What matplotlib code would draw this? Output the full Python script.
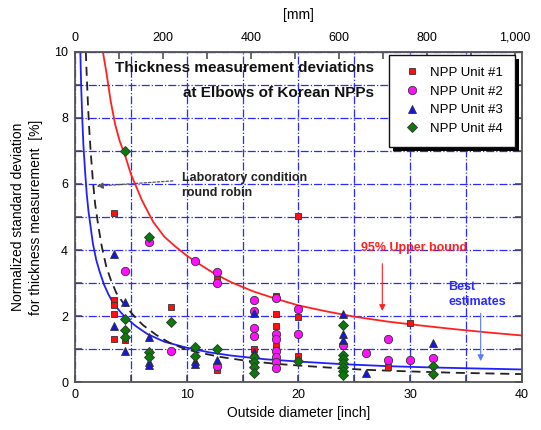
import matplotlib
matplotlib.use('Agg')
import matplotlib.pyplot as plt
from matplotlib.patches import Rectangle
from matplotlib.transforms import IdentityTransform
from matplotlib.ticker import MultipleLocator, FixedLocator, FuncFormatter

plt.rcParams['font.family'] = ['Liberation Sans', 'DejaVu Sans']

# measured points, outside diameter [inch] vs normalized std deviation [%]
u1_x = [3.5, 3.5, 3.5, 3.5, 3.5, 4.5, 8.625, 12.75, 12.75, 16, 18, 18, 18, 18, 20, 20, 20, 28, 30]
u1_y = [5.13, 2.48, 2.34, 2.07, 1.30, 1.26, 2.26, 3.13, 0.36, 1.0, 2.6, 2.05, 1.69, 1.09, 5.03, 1.97, 0.78, 0.44, 1.80]

u2_x = [4.5, 6.625, 8.625, 10.75, 12.75, 12.75, 12.75, 16, 16, 16, 16, 18, 18, 18, 18, 18, 18, 18,
        20, 20, 24, 26, 28, 28, 30, 32]
u2_y = [3.35, 4.24, 0.95, 3.66, 3.33, 2.99, 0.5, 2.5, 2.15, 1.65, 1.39, 2.55, 1.45, 1.29, 0.93, 0.75, 0.6, 0.42,
        2.22, 1.44, 1.12, 0.88, 1.29, 0.67, 0.66, 0.72]

u3_x = [3.5, 3.5, 4.5, 4.5, 6.625, 6.625, 6.625, 10.75, 10.75, 12.75, 16, 16, 24, 24, 24, 26, 32]
u3_y = [3.87, 1.71, 2.43, 0.95, 1.35, 0.6, 0.52, 0.65, 0.54, 0.67, 2.1, 0.9, 2.06, 1.46, 1.26, 0.27, 1.19]

u4_x = [4.5, 4.5, 4.5, 4.5, 6.625, 6.625, 6.625, 8.625, 10.75, 10.75, 12.75, 16, 16, 16, 16, 20,
        24, 24, 24, 24, 24, 24, 24, 32, 32]
u4_y = [7.0, 1.92, 1.58, 1.37, 4.39, 0.91, 0.75, 1.82, 1.05, 0.79, 1.01, 0.75, 0.6, 0.45, 0.27, 0.63,
        1.74, 0.82, 0.7, 0.58, 0.45, 0.32, 0.2, 0.49, 0.23]

# curves
upper_x = [2.5, 2.8, 3.2, 3.6, 4.0, 4.5, 5.0, 6.0, 7.0, 8.0, 9.0, 10.0, 11.0, 12.5, 14, 16, 18, 20,
           22.5, 25, 28, 31, 34, 37, 40]
upper_y = [10.0, 9.4, 8.5, 7.8, 7.3, 6.85, 6.3, 5.5, 4.85, 4.4, 4.1, 3.83, 3.6, 3.28, 3.02, 2.74, 2.52, 2.32,
           2.14, 1.98, 1.83, 1.71, 1.6, 1.5, 1.41]

best_x = [0.48, 0.55, 0.65, 0.75, 0.9, 1.05, 1.2, 1.4, 1.6, 1.9, 2.2, 2.6, 3.0, 3.5, 4.0, 4.5, 5.5, 6.5,
          8.0, 10.0, 12.0, 14, 17, 20, 24, 28, 32, 36, 40]
best_y = [10.0, 9.0, 8.0, 7.2, 6.4, 5.7, 5.2, 4.7, 4.2, 3.7, 3.35, 2.95, 2.65, 2.35, 2.15, 1.96, 1.68, 1.45,
          1.22, 1.04, 0.9, 0.8, 0.69, 0.62, 0.54, 0.48, 0.44, 0.41, 0.38]

lab_x = [0.97, 1.05, 1.15, 1.25, 1.4, 1.6, 1.8, 2.1, 2.4, 2.8, 3.2, 3.7, 4.2, 4.9, 5.5, 6.1, 7.3, 8.4,
         9.7, 11, 13, 15.4, 18, 20, 23, 26, 30, 34, 40]
lab_y = [10.0, 9.3, 8.5, 7.8, 7.0, 6.1, 5.4, 4.7, 4.1, 3.5, 3.1, 2.7, 2.45, 2.15, 1.92, 1.72, 1.42, 1.2,
         1.02, 0.9, 0.76, 0.64, 0.55, 0.5, 0.43, 0.37, 0.32, 0.28, 0.24]

mm_ticks = [0, 200, 400, 600, 800, 1000]

fig = plt.figure(figsize=(5.41, 4.30), dpi=100)
ax = fig.add_axes([0.1386, 0.1116, 0.8263, 0.7675])

grid_col = '#2a2aff'
ax.set_xlim(0, 40)
ax.set_ylim(0, 10)
ax.xaxis.set_major_locator(MultipleLocator(10))
ax.xaxis.set_minor_locator(MultipleLocator(5))
ax.yaxis.set_major_locator(MultipleLocator(2))
ax.yaxis.set_minor_locator(MultipleLocator(1))
ax.grid(True, which='both', color=grid_col, ls='-.', lw=0.9, zorder=0)
ax.set_axisbelow(True)

ax.tick_params(which='both', direction='in', length=5, width=1.1, color='#444',
               right=True, top=False, labelsize=9, pad=5)
for s in ax.spines.values():
    s.set_color('#555')
    s.set_linewidth(1.3)

ax.plot(upper_x, upper_y, color='#ff2020', lw=1.3, zorder=2)
ax.plot(best_x, best_y, color='#2020ff', lw=1.3, zorder=2)
ax.plot(lab_x, lab_y, color='#222222', lw=1.3, ls=(0, (5, 3.2)), zorder=2)

mk = dict(ls='none', mec='#333333', mew=0.6, zorder=3)
ax.plot(u1_x, u1_y, marker='s', ms=5, mfc='#ff1010', label='NPP Unit #1', **mk)
ax.plot(u2_x, u2_y, marker='o', ms=6, mfc='#ff10ff', label='NPP Unit #2', **mk)
ax.plot(u3_x, u3_y, marker='^', ms=6, mfc='#1515e0', label='NPP Unit #3', **mk)
ax.plot(u4_x, u4_y, marker='D', ms=5, mfc='#0b7a0b', label='NPP Unit #4', **mk)

ax.set_xlabel('Outside diameter [inch]', fontsize=10)
ax.xaxis.set_label_coords(0.5, -0.072)
ax.set_ylabel('Normalized standard deviation\nfor thickness measurement  [%]', fontsize=10,
              linespacing=1.35)
ax.yaxis.set_label_coords(-0.072, 0.5)

top = ax.secondary_xaxis('top', functions=(lambda x: x * 25.4, lambda m: m / 25.4))
top.xaxis.set_major_locator(FixedLocator(mm_ticks))
top.xaxis.set_minor_locator(FixedLocator(list(range(100, 1000, 200))))
top.xaxis.set_major_formatter(FuncFormatter(lambda v, p: '{:,.0f}'.format(v)))
top.tick_params(which='both', direction='in', length=5, width=1.1, color='#444', labelsize=9, pad=6)
top.spines['top'].set_color('#555')
top.set_xlabel('[mm]', fontsize=10, labelpad=9)

# in-plot texts
ax.text(26.75, 9.5, 'Thickness measurement deviations', ha='right', va='center',
        fontsize=11, fontweight='bold', color='#111111')
ax.text(26.75, 8.77, 'at Elbows of Korean NPPs', ha='right', va='center',
        fontsize=11, fontweight='bold', color='#111111')

ax.text(9.6, 5.95, 'Laboratory condition\nround robin', fontsize=9, fontweight='bold',
        color='#222222', va='center', linespacing=1.35)
ax.annotate('', xy=(1.7, 5.93), xytext=(9.0, 6.1),
            arrowprops=dict(arrowstyle='-|>', color='#555555', lw=0.9, ls=(0, (2, 1.5)),
                            mutation_scale=9))

ax.text(25.6, 4.05, '95% Upper bound', color='#ff2020', fontsize=9, fontweight='bold', va='center')
ax.annotate('', xy=(27.5, 2.07), xytext=(27.5, 3.67),
            arrowprops=dict(arrowstyle='-|>', color='#ff2020', lw=0.8, mutation_scale=9))

ax.text(33.4, 2.65, 'Best\nestimates', color='#2a2aff', fontsize=9, fontweight='bold',
        va='center', linespacing=1.35)
ax.annotate('', xy=(36.3, 0.55), xytext=(36.3, 2.17),
            arrowprops=dict(arrowstyle='-|>', color='#5a7aff', lw=0.8, mutation_scale=9))

leg = ax.legend(loc='upper right', bbox_to_anchor=(0.984, 0.991), borderaxespad=0,
                fontsize=9.5, frameon=True, fancybox=False, edgecolor='#111111',
                framealpha=1, borderpad=0.9, handlelength=1.67, handletextpad=0.53,
                labelspacing=0.48)
leg.get_frame().set_linewidth(1.0)

# black drop shadow behind the legend box
fig.canvas.draw()
bb = leg.get_window_extent()
shadow = Rectangle((bb.x0 + 4, bb.y0 - 4), bb.width, bb.height, transform=IdentityTransform(),
                   facecolor='black', edgecolor='none', zorder=4.9, clip_on=False)
ax.add_artist(shadow)

fig.savefig('out.png', dpi=100)
